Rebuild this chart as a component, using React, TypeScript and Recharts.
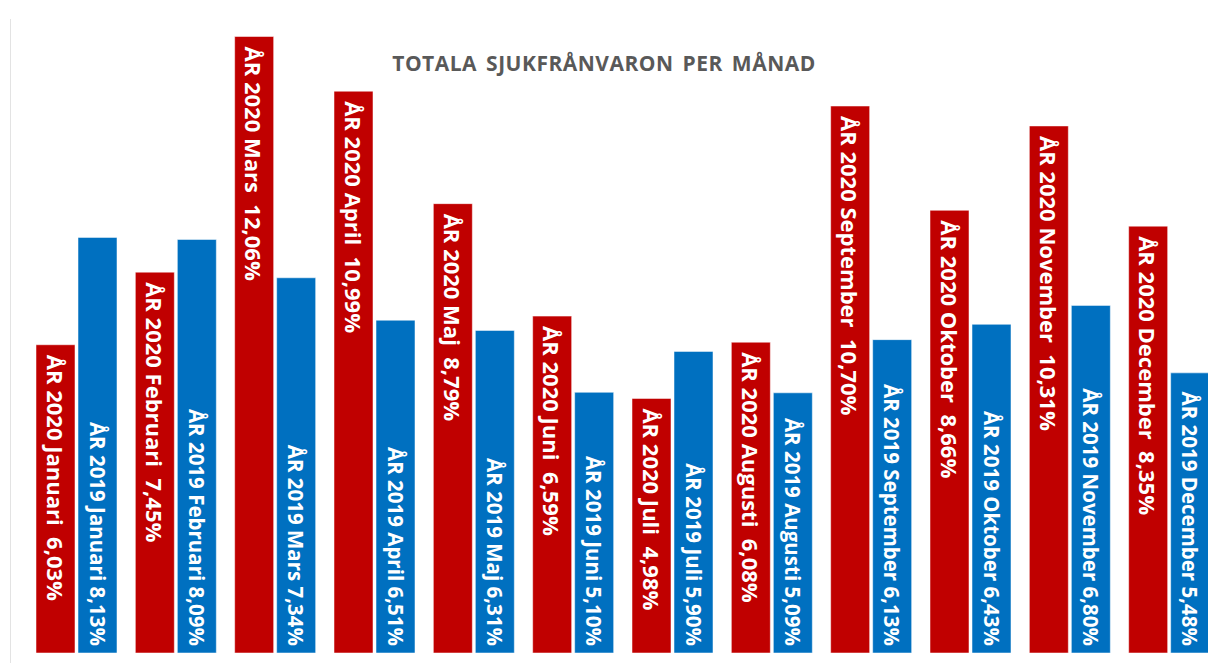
import { BarChart, Bar, XAxis, YAxis, LabelList } from 'recharts'

const months = [
  'Januari',
  'Februari',
  'Mars',
  'April',
  'Maj',
  'Juni',
  'Juli',
  'Augusti',
  'September',
  'Oktober',
  'November',
  'December',
]
const values2020 = [6.03, 7.45, 12.06, 10.99, 8.79, 6.59, 4.98, 6.08, 10.7, 8.66, 10.31, 8.35]
const values2019 = [8.13, 8.09, 7.34, 6.51, 6.31, 5.1, 5.9, 5.09, 6.13, 6.43, 6.8, 5.48]

const COLORS = {
  y2020: '#C00000', // red
  y2019: '#0070C0', // blue
  title: '#595959',
}

const data = months.map((month, i) => ({
  month,
  y2020: values2020[i],
  y2019: values2019[i],
}))

const fmt = (v: number) => v.toFixed(2).replace('.', ',') + '%'

// rotated label, 2020 anchored at the top of the bar
function TopLabel(props: any) {
  const { x, y, width, index } = props
  const cx = x + width / 2
  const ty = y + 10
  return (
    <text
      x={cx}
      y={ty}
      transform={`rotate(90, ${cx}, ${ty})`}
      textAnchor="start"
      dominantBaseline="central"
      fill="#fff"
      fontFamily="'Open Sans', sans-serif"
      fontWeight="bold"
      fontSize={22}
      style={{ whiteSpace: 'pre' }}
    >
      {`ÅR 2020 ${months[index]}  ${fmt(values2020[index])}`}
    </text>
  )
}

// rotated label, 2019 anchored near the bottom of the bar
function BottomLabel(props: any) {
  const { x, y, width, height, index } = props
  const cx = x + width / 2
  const ty = y + height - 7
  return (
    <text
      x={cx}
      y={ty}
      transform={`rotate(90, ${cx}, ${ty})`}
      textAnchor="end"
      dominantBaseline="central"
      fill="#fff"
      fontFamily="'Open Sans', sans-serif"
      fontWeight="bold"
      fontSize={20.5}
    >
      {`ÅR 2019 ${months[index]} ${fmt(values2019[index])}`}
    </text>
  )
}

export default function App() {
  return (
    <div style={{ position: 'relative', width: 1208, height: 663, overflow: 'hidden', background: '#fff' }}>
      <style>{`body { margin: 0; overflow: hidden; }`}</style>
      <div
        style={{
          position: 'absolute',
          left: 10,
          top: 19,
          width: 1,
          height: 644,
          background: '#e3e3e3',
        }}
      />
      <BarChart
        width={1219}
        height={663}
        data={data}
        margin={{ top: 14, right: 0, left: 27, bottom: 10 }}
        barSize={39}
        barGap={3}
      >
        <XAxis dataKey="month" hide />
        <YAxis hide domain={[0, 12.5]} />
        <Bar dataKey="y2020" fill={COLORS.y2020} stroke="#ffffff" strokeOpacity={0.5} isAnimationActive={false}>
          <LabelList dataKey="y2020" content={<TopLabel />} />
        </Bar>
        <Bar dataKey="y2019" fill={COLORS.y2019} stroke="#ffffff" strokeOpacity={0.5} isAnimationActive={false}>
          <LabelList dataKey="y2019" content={<BottomLabel />} />
        </Bar>
      </BarChart>
      <div
        style={{
          position: 'absolute',
          left: 0,
          width: 1208,
          top: 49,
          textAlign: 'center',
          fontFamily: "'Open Sans', sans-serif",
          fontWeight: 700,
          fontSize: 21,
          color: COLORS.title,
          letterSpacing: 0.5,
          wordSpacing: 3,
        }}
      >
        TOTALA SJUKFRÅNVARON PER MÅNAD
      </div>
    </div>
  )
}
